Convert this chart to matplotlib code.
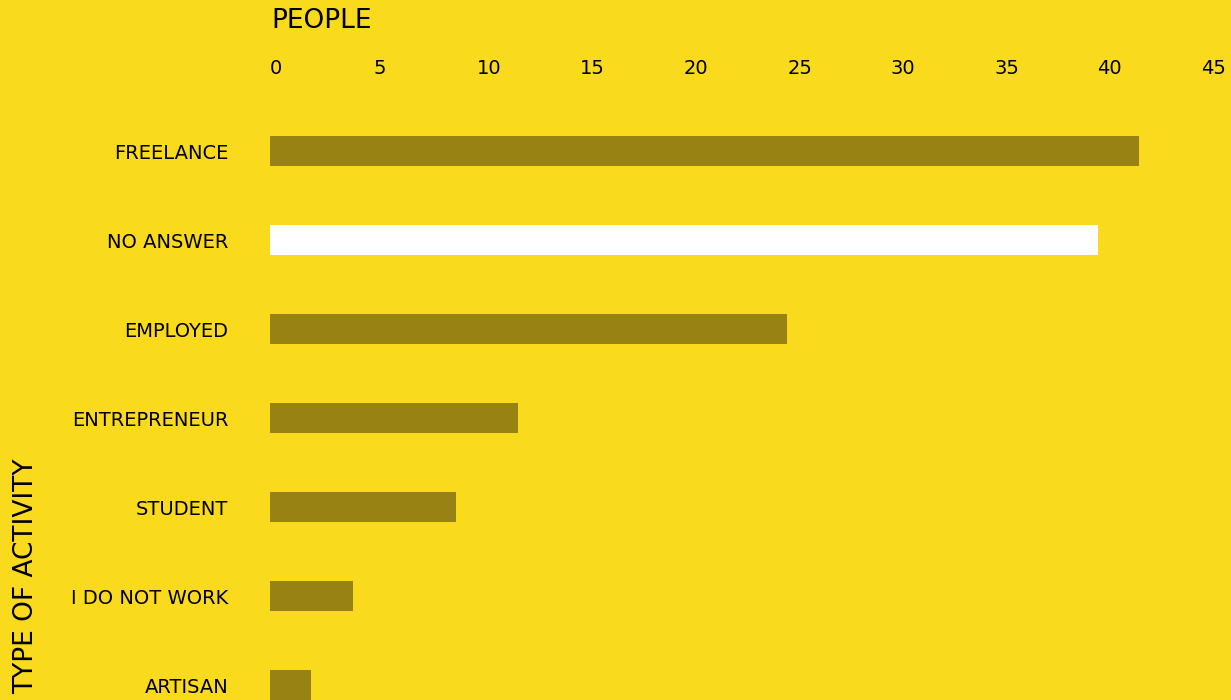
import matplotlib
matplotlib.use("Agg")
import matplotlib.pyplot as plt

categories = ["FREELANCE", "NO ANSWER", "EMPLOYED", "ENTREPRENEUR",
              "STUDENT", "I DO NOT WORK", "ARTISAN"]
people = [42, 40, 25, 12, 9, 4, 2]
x_ticks = [0, 5, 10, 15, 20, 25, 30, 35, 40, 45]

BG = "#FADA1C"
BAR = "#998214"
HIGHLIGHT = "#FFFFFF"
colors = [HIGHLIGHT if c == "NO ANSWER" else BAR for c in categories]

W, H = 1231, 700
fig = plt.figure(figsize=(W / 100, H / 100), dpi=100, facecolor=BG)
ax = fig.add_axes([270 / W, 0, 931 / W, 600 / H], facecolor=BG)

ypos = list(range(len(categories)))
ax.barh(ypos, people, height=0.337, color=colors)

ax.set_xlim(0, 45)
ax.set_ylim(6.165, -0.575)

ax.xaxis.tick_top()
ax.set_xticks(x_ticks)
ax.set_xticklabels([str(t) for t in x_ticks], fontsize=14, ha="left")
ax.tick_params(axis="x", length=0, pad=16, colors="black")

ax.set_yticks(ypos)
ax.set_yticklabels(categories, fontsize=14)
ax.tick_params(axis="y", length=0, pad=30, colors="black")

for s in ax.spines.values():
    s.set_visible(False)

fig.text(271 / W, 1 - 21 / H, "PEOPLE", fontsize=19, ha="left", va="center")
fig.text(26 / W, 1 - 576 / H, "TYPE OF ACTIVITY", fontsize=19,
         rotation=90, ha="center", va="center")

fig.savefig("out.png", dpi=100, facecolor=BG)
